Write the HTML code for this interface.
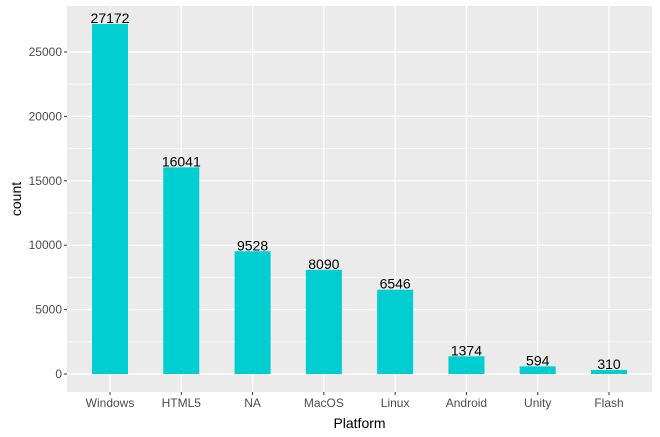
<!DOCTYPE html>
<html><head><meta charset="utf-8"><style>body{margin:0;background:#fff}svg{display:block;font-family:"Liberation Sans",Arial,sans-serif}</style></head>
<body>
<svg id="c" width="660" height="437"></svg>
<script>
const categories=["Windows","HTML5","NA","MacOS","Linux","Android","Unity","Flash"];
const counts=[27172,16041,9528,8090,6546,1374,594,310];
const yTicks=[0,5000,10000,15000,20000,25000];
const NS="http://www.w3.org/2000/svg";
const svg=document.getElementById('c');
const L=67,R=652,T=6,B=392;
const y=v=>374-v*(374-52)/25000;
const x=i=>110+i*(609-110)/7;
function mk(t,a,p){const e=document.createElementNS(NS,t);for(const k in a)e.setAttribute(k,a[k]);(p||svg).appendChild(e);return e;}
const bg=mk('rect',{x:L,y:T,width:R-L,height:B-T,fill:'#ebebeb'});


for(let i=0;i<yTicks.length;i++){
 const v=yTicks[i];
 if(i<yTicks.length-1){const m=mk('line',{x1:L,x2:R,y1:y(v+2500),y2:y(v+2500),stroke:'#fff','stroke-width':0.6});
 }
 const g=mk('line',{x1:L,x2:R,y1:y(v),y2:y(v),stroke:'#fff','stroke-width':1.2});
 
 mk('line',{x1:L-3,x2:L,y1:y(v),y2:y(v),stroke:'#333','stroke-width':1});
 const t=mk('text',{x:L-5,y:y(v)+4,'text-anchor':'end','font-size':12,fill:'#4d4d4d'});t.textContent=v;
 
}
categories.forEach((c,i)=>{
 const g=mk('line',{x1:x(i),x2:x(i),y1:T,y2:B,stroke:'#fff','stroke-width':1.2});
 
 mk('line',{x1:x(i),x2:x(i),y1:B,y2:B+3,stroke:'#333','stroke-width':1});
 const t=mk('text',{x:x(i),y:B+15,'text-anchor':'middle','font-size':12,fill:'#4d4d4d'});t.textContent=c;
 
});
categories.forEach((c,i)=>{
 const v=counts[i];
 const b=mk('rect',{x:x(i)-18,y:y(v),width:36,height:y(0)-y(v),fill:'#00ced1'});
 
 const t=mk('text',{x:x(i),y:y(v)-1,'text-anchor':'middle','font-size':14,fill:'#000'});t.textContent=v;
 
});
const xt=mk('text',{x:(L+R)/2,y:428,'text-anchor':'middle','font-size':14,fill:'#000'});xt.textContent='Platform';

const yt=mk('text',{x:0,y:0,'text-anchor':'middle','font-size':14,fill:'#000',transform:'translate(21,'+((T+B)/2)+') rotate(-90)'});yt.textContent='count';

</script>
</body></html>
